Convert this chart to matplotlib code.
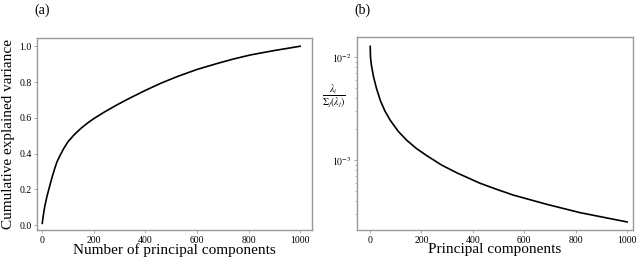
import matplotlib
matplotlib.use("Agg")
import matplotlib.pyplot as plt

plt.rcParams['font.family'] = ['Liberation Serif', 'DejaVu Serif']
plt.rcParams['mathtext.fontset'] = 'stix'

# (a) cumulative explained variance
cum_x = [1, 4, 10, 19, 30, 39, 50, 58, 70, 84, 100, 123, 150, 174, 200, 239, 290, 340,
         400, 460, 523, 600, 677, 740, 806, 900, 1000]
cum_y = [0.01, 0.045, 0.10, 0.16, 0.22, 0.268, 0.32, 0.354, 0.39, 0.428, 0.465, 0.503, 0.54, 0.568,
         0.595, 0.63, 0.672, 0.71, 0.753, 0.793, 0.83, 0.87, 0.903, 0.928, 0.951, 0.976, 1.0]

# (b) normalised eigenvalues
eig_x = [1, 2, 5, 14, 25, 40, 58, 79, 110, 144, 180, 222, 280, 339, 428, 494, 558, 688, 817, 1000]
eig_y = [0.0127, 0.0100, 0.0085, 0.0064, 0.0050, 0.0038, 0.0030, 0.00243, 0.00190, 0.00155, 0.00130, 0.00110,
         0.000891, 0.000750, 0.000596, 0.000519, 0.000457, 0.000372, 0.000309, 0.000251]

frame = '#999999'

fig = plt.figure(figsize=(6.4, 2.58), dpi=100)
ax1 = fig.add_axes([0.058, 0.108, 0.43, 0.744])
ax2 = fig.add_axes([0.558, 0.108, 0.431, 0.748])

ax1.plot(cum_x, cum_y, color='black', lw=1.2)
ax1.set_xlim(-19, 1047)
ax1.set_ylim(-0.028, 1.045)
ax1.set_xticks([0, 200, 400, 600, 800, 1000])
ax1.set_yticks([0.0, 0.2, 0.4, 0.6, 0.8, 1.0])
ax1.set_xlabel('Number of principal components', fontsize=11, labelpad=-1)
ax1.set_ylabel('Cumulative explained variance', fontsize=11, labelpad=3)

ax2.plot(eig_x, eig_y, color='black', lw=1.2)
ax2.set_yscale('log')
ax2.set_xlim(-50, 1023)
ax2.set_ylim(2.09e-4, 0.0156)
ax2.set_xticks([0, 200, 400, 600, 800, 1000])
ax2.set_yticks([1e-2, 1e-3])
ax2.set_yticklabels([r'$10^{-2}$', r'$10^{-3}$'])
ax2.set_xlabel('Principal components', fontsize=11, labelpad=-1)
ax2.set_ylabel(r'$\frac{\lambda_i}{\Sigma_j(\lambda_j)}$', fontsize=10, rotation=0, ha='center', va='center')
ax2.yaxis.set_label_coords(-0.083, 0.69)

fig.text(42 / 640, 1 - 10 / 258, '(a)', fontsize=10, ha='center', va='center')
fig.text(362 / 640, 1 - 10 / 258, '(b)', fontsize=10, ha='center', va='center')

for ax in (ax1, ax2):
    for s in ax.spines.values():
        s.set_color(frame)
        s.set_linewidth(1.0)
    ax.tick_params(labelsize=7, length=2, width=0.6, color=frame, pad=2)
    ax.tick_params(which='minor', length=1.5, width=0.5, color=frame)

fig.savefig('out.png', dpi=100)
